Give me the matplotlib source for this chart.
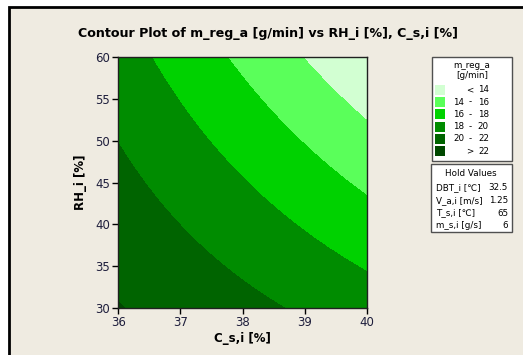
import numpy as np
import matplotlib
matplotlib.use("Agg")
import matplotlib.pyplot as plt
from matplotlib.patches import Rectangle

# ---- data: points lying on each contour boundary ----
lvl14_C = [38.93, 39.36, 40.0]
lvl14_RH = [60.0, 56.9, 52.2]
lvl16_C = [37.75, 37.96, 38.77, 39.58, 40.0]
lvl16_RH = [60.0, 57.6, 52.9, 45.3, 43.5]
lvl18_C = [36.54, 37.10, 37.96, 38.77, 40.0]
lvl18_RH = [60.0, 53.7, 45.3, 40.5, 34.6]
lvl20_C = [36.0, 36.38, 37.10, 37.96, 38.67]
lvl20_RH = [49.5, 45.3, 39.3, 33.3, 30.0]
lvl22_C = [36.0, 36.1]
lvl22_RH = [30.8, 30.0]

levels = [14, 16, 18, 20, 22]
legend_labels = [("", "<", "14"), ("14", "-", "16"), ("16", "-", "18"),
                 ("18", "-", "20"), ("20", "-", "22"), ("", ">", "22")]
colors = ["#D2FFD2", "#5AFF5A", "#00D200", "#008C00", "#006400", "#004800"]
hold_names = ["DBT_i [\u2103]", "V_a,i [m/s]", "T_s,i [\u2103]", "m_s,i [g/s]"]
hold_values = ["32.5", "1.25", "65", "6"]
xticks = [36, 37, 38, 39, 40]
yticks = [30, 35, 40, 45, 50, 55, 60]

# ---- fit a quadratic response surface through the boundary points ----
pts = []
wts = []
for lv, cs, rs in zip(levels,
                      [lvl14_C, lvl16_C, lvl18_C, lvl20_C, lvl22_C],
                      [lvl14_RH, lvl16_RH, lvl18_RH, lvl20_RH, lvl22_RH]):
    for c, r in zip(cs, rs):
        pts.append((c, r, lv))
        wts.append(4.0 if lv == 22 else 1.0)
pts = np.array(pts)
wts = np.array(wts)
u = pts[:, 0] - 38.0
v = (pts[:, 1] - 45.0) / 7.5
A = np.column_stack([np.ones_like(u), u, v, u * u, v * v, u * v])
coef, *_ = np.linalg.lstsq(A * wts[:, None], pts[:, 2] * wts, rcond=None)

cg = np.linspace(36, 40, 300)
rg = np.linspace(30, 60, 300)
CC, RR = np.meshgrid(cg, rg)
U = CC - 38.0
V = (RR - 45.0) / 7.5
Z = (coef[0] + coef[1] * U + coef[2] * V + coef[3] * U * U
     + coef[4] * V * V + coef[5] * U * V)

# ---- figure ----
W, H = 523, 355
fig = plt.figure(figsize=(W / 100, H / 100), dpi=100, facecolor="white")
bg = "#EFEBE1"
fig.patches.append(Rectangle((9 / W, -0.1), 1.2, 1 - 7 / H + 0.1,
                             transform=fig.transFigure, facecolor=bg,
                             edgecolor="black", linewidth=2, zorder=-10))

ax = fig.add_axes([118.3 / W, 1 - 308 / H, (366.7 - 118.3) / W, (308 - 57) / H])
ax.set_zorder(1)
lv_all = [min(Z.min(), 13) - 1] + levels + [max(Z.max(), 23) + 1]
ax.contourf(CC, RR, Z, levels=lv_all, colors=colors)
ax.set_xlim(36, 40)
ax.set_ylim(30, 60)
ax.set_xticks(xticks)
ax.set_yticks(yticks)
tick_col = "#1E1E3C"
ax.tick_params(direction="out", length=4, width=1, labelsize=8.5,
               colors="black", labelcolor=tick_col, pad=2)
for s in ax.spines.values():
    s.set_color("#202020")
    s.set_linewidth(1)
ax.set_xlabel("C_s,i [%]", fontsize=8.5, fontweight="bold", labelpad=2)
ax.set_ylabel("RH_i [%]", fontsize=8.5, fontweight="bold", labelpad=6)

fig.text(268 / W, 1 - 33 / H, "Contour Plot of m_reg_a [g/min] vs RH_i [%], C_s,i [%]",
         ha="center", va="center", fontsize=9.1, fontweight="bold", color="black")

def px(x, y):
    return x / W, 1 - y / H

# legend box 1
x0, y0, x1, y1 = 432, 57, 512, 161
fig.patches.append(Rectangle(px(x0, y1), (x1 - x0) / W, (y1 - y0) / H,
                             transform=fig.transFigure, facecolor="white",
                             edgecolor="#505050", linewidth=1, zorder=2))
fs = 6.3
fig.text(*px(472, 65), "m_reg_a", ha="center", va="center", fontsize=fs, zorder=3)
fig.text(*px(472, 75.5), "[g/min]", ha="center", va="center", fontsize=fs, zorder=3)
row_y = [89.7, 102.0, 114.3, 126.6, 138.9, 151.2]
for (a, sep, b), col, yy in zip(legend_labels, colors, row_y):
    fig.patches.append(Rectangle(px(435, yy + 5), 10 / W, 10 / H,
                                 transform=fig.transFigure, facecolor=col,
                                 edgecolor="none", zorder=3))
    if a:
        fig.text(*px(453, yy), a, ha="left", va="center", fontsize=fs, zorder=3)
    fig.text(*px(470, yy), sep, ha="center", va="center", fontsize=fs, zorder=3)
    fig.text(*px(489, yy), b, ha="right", va="center", fontsize=fs, zorder=3)

# hold values box
x0, y0, x1, y1 = 431, 164, 512, 232
fig.patches.append(Rectangle(px(x0, y1), (x1 - x0) / W, (y1 - y0) / H,
                             transform=fig.transFigure, facecolor="white",
                             edgecolor="#505050", linewidth=1, zorder=2))
fig.text(*px(471, 173), "Hold Values", ha="center", va="center", fontsize=fs, zorder=3)
hy = [187.3, 200.5, 213.0, 225.7]
for n, val, yy in zip(hold_names, hold_values, hy):
    fig.text(*px(436, yy), n, ha="left", va="center", fontsize=fs, zorder=3)
    fig.text(*px(508, yy), val, ha="right", va="center", fontsize=fs, zorder=3)

fig.savefig("out.png", dpi=100, facecolor=fig.get_facecolor())
